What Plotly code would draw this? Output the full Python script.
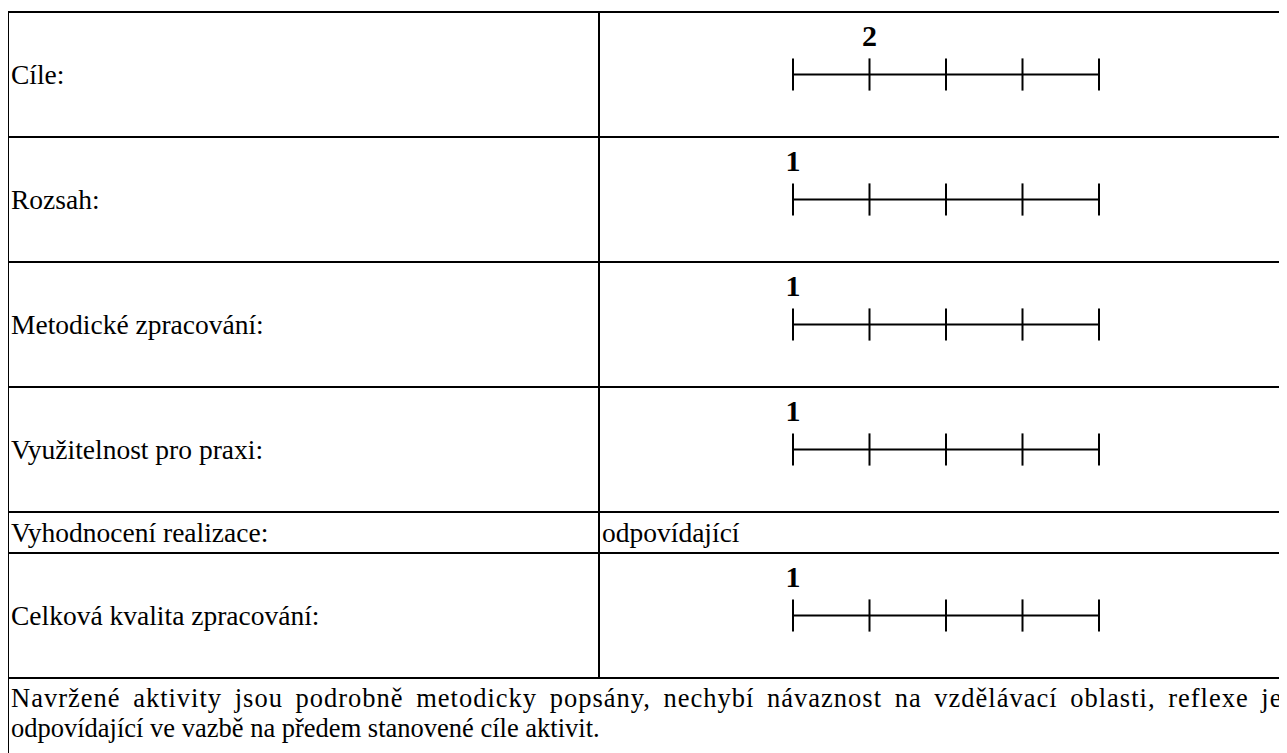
import plotly.graph_objects as go

# ---- data ----
criteria = ["Cíle:", "Rozsah:", "Metodické zpracování:", "Využitelnost pro praxi:",
            "Vyhodnocení realizace:", "Celková kvalita zpracování:"]
scores = [2, 1, 1, 1, None, 1]
text_values = [None, None, None, None, "odpovídající", None]
scale_ticks = [1, 2, 3, 4, 5]
comment_lines = [
    "Navržené aktivity jsou podrobně metodicky popsány, nechybí návaznost na vzdělávací oblasti, reflexe je",
    "odpovídající ve vazbě na předem stanovené cíle aktivit.",
]

# ---- layout constants (screen pixels) ----
SCREEN_W, SCREEN_H = 1287, 753
BODY = 8                      # default html body margin
W, H = SCREEN_W - BODY, SCREEN_H - BODY
TOP = 12
LEFT = 8
DIVIDER = 599
ROW_H = [125, 125, 125, 125, 41, 125]
SCALE_X0, SCALE_X1 = 793, 1099
FONT = "Liberation Serif"
LABEL_SIZE = 27.5
PARA_SIZE = 26.5

bounds = [TOP]
for h in ROW_H:
    bounds.append(bounds[-1] + h)
centers = [(bounds[i] + bounds[i + 1]) / 2 for i in range(len(ROW_H))]

fig = go.Figure()

# rating scales
for i, s in enumerate(scores):
    if s is None:
        continue
    yc = centers[i]
    fig.add_trace(go.Scatter(
        x=scale_ticks, y=[yc] * len(scale_ticks),
        xaxis="x2", yaxis="y",
        mode="lines+markers",
        line=dict(color="black", width=2),
        marker=dict(symbol="line-ns", size=23, line=dict(color="black", width=2)),
        cliponaxis=False, hoverinfo="skip", showlegend=False,
    ))
    fig.add_trace(go.Scatter(
        x=[s], y=[yc - 36], xaxis="x2", yaxis="y",
        mode="text", text=[f"<b>{s}</b>"],
        textfont=dict(family=FONT, size=30, color="black"),
        textposition="middle center",
        cliponaxis=False, hoverinfo="skip", showlegend=False,
    ))

shapes = []
line = dict(color="black", width=2)
for b in bounds:
    shapes.append(dict(type="line", xref="x", yref="y", x0=LEFT, x1=SCREEN_W + 5, y0=b, y1=b, line=line))
shapes.append(dict(type="line", xref="x", yref="y", x0=LEFT, x1=LEFT, y0=TOP, y1=SCREEN_H + 5, line=line))
shapes.append(dict(type="line", xref="x", yref="y", x0=DIVIDER, x1=DIVIDER, y0=TOP, y1=bounds[-1], line=line))

annotations = []
for i, lab in enumerate(criteria):
    annotations.append(dict(
        xref="x", yref="y", x=LEFT + 1, y=centers[i], text=lab, showarrow=False,
        xanchor="left", yanchor="middle",
        font=dict(family=FONT, size=LABEL_SIZE, color="black"),
    ))
    if text_values[i]:
        annotations.append(dict(
            xref="x", yref="y", x=DIVIDER + 1, y=centers[i], text=text_values[i], showarrow=False,
            xanchor="left", yanchor="middle",
            font=dict(family=FONT, size=LABEL_SIZE, color="black"),
        ))
para_styles = ["letter-spacing:1px;word-spacing:5px", ""]
for j, ln in enumerate(comment_lines):
    txt = f'<span style="{para_styles[j]}">{ln}</span>' if para_styles[j] else ln
    annotations.append(dict(
        xref="x", yref="y", x=LEFT + 1, y=bounds[-1] + 20 + j * 30, text=txt, showarrow=False,
        xanchor="left", yanchor="middle",
        font=dict(family=FONT, size=PARA_SIZE, color="black"),
    ))

fig.update_layout(
    width=W, height=H, autosize=False,
    margin=dict(l=0, r=0, t=0, b=0),
    paper_bgcolor="white", plot_bgcolor="white",
    xaxis=dict(range=[BODY, SCREEN_W], domain=[0, 1], visible=False, fixedrange=True),
    yaxis=dict(range=[SCREEN_H, BODY], domain=[0, 1], visible=False, fixedrange=True),
    xaxis2=dict(range=[1, 5], domain=[(SCALE_X0 - BODY) / W, (SCALE_X1 - BODY) / W], anchor="y",
                visible=False, fixedrange=True),
    shapes=shapes, annotations=annotations,
)

fig.write_html("out.html", config={"displayModeBar": False})
